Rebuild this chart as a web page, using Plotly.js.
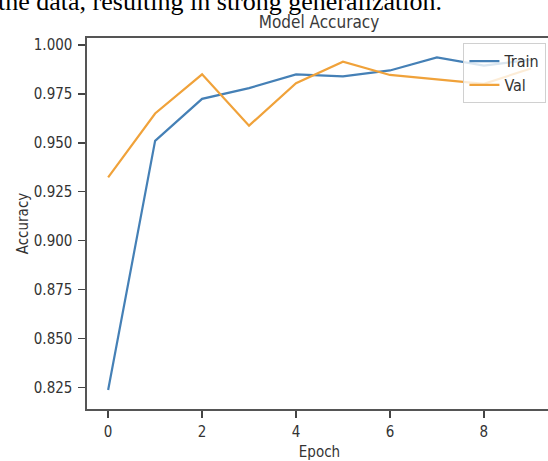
<!DOCTYPE html>
<html>
<head>
<meta charset="utf-8">
<script src="https://cdn.plot.ly/plotly-3.0.1.min.js"></script>
<style>
  html, body { margin: 0; padding: 0; width: 548px; height: 461px; overflow: hidden; background: #fff; }
  #wrap { position: relative; width: 548px; height: 461px; overflow: hidden; }
  #chart { position: absolute; left: 0; top: 0; width: 560px; height: 461px; }
  #doctext { position: absolute; left: -2px; top: -11px; font-family: "Liberation Serif", "Times New Roman", serif;
             font-size: 26px; line-height: 26px; color: #000; white-space: nowrap; z-index: 5; }
</style>
</head>
<body>
<div id="wrap">
  <div id="chart"></div>
  <div id="doctext">the data, resulting in strong generalization.</div>
</div>
<script>
const epochs = [0, 1, 2, 3, 4, 5, 6, 7, 8, 9];
const trainAcc = [0.8236, 0.951, 0.9725, 0.978, 0.985, 0.984, 0.987, 0.9937, 0.9895, 0.9925];
const valAcc = [0.9323, 0.965, 0.985, 0.9588, 0.9805, 0.9915, 0.9847, 0.9826, 0.9802, 0.988];
const seriesNames = ["Train", "Val"];
const xTicks = [0, 2, 4, 6, 8];
const yTicks = [0.825, 0.850, 0.875, 0.900, 0.925, 0.950, 0.975, 1.000];

const FONT = '"DejaVu Sans Condensed", "DejaVu Sans", sans-serif';

const traces = [
  { x: epochs, y: trainAcc, name: seriesNames[0], type: 'scatter', mode: 'lines',
    line: { color: '#4580b6', width: 2.2 } },
  { x: epochs, y: valAcc, name: seriesNames[1], type: 'scatter', mode: 'lines',
    line: { color: '#f0a23a', width: 2.2 } }
];

const layout = {
  width: 560, height: 461,
  margin: { l: 87, r: 8, t: 38, b: 52 },
  paper_bgcolor: '#ffffff', plot_bgcolor: '#ffffff',
  font: { family: FONT, color: '#333', size: 15 },
  title: { text: 'Model Accuracy', font: { family: FONT, size: 17, color: '#3a3a3a' },
           x: (319 / 560), xanchor: 'center', xref: 'container', y: 1 - 22 / 461, yref: 'container', yanchor: 'middle' },
  xaxis: {
    range: [-0.45, 9.45], tickvals: xTicks, ticktext: xTicks.map(String),
    ticks: 'outside', ticklen: 7, tickwidth: 1.4, tickcolor: '#444',
    showline: true, linecolor: '#555', linewidth: 1.6, mirror: true,
    showgrid: false, zeroline: false, ticklabelstandoff: 1,
    tickfont: { family: FONT, size: 15, color: '#333' },
    title: { text: 'Epoch', font: { family: FONT, size: 15, color: '#333' }, standoff: 10 },
    automargin: false
  },
  yaxis: {
    range: [0.8139, 1.0036], tickvals: yTicks, ticktext: yTicks.map(v => v.toFixed(3)),
    ticks: 'outside', ticklen: 7, tickwidth: 1.4, tickcolor: '#444',
    showline: true, linecolor: '#555', linewidth: 1.6, mirror: true,
    showgrid: false, zeroline: false, ticklabelstandoff: 3,
    tickfont: { family: FONT, size: 15, color: '#333' },
    title: { text: 'Accuracy', font: { family: FONT, size: 15, color: '#333' }, standoff: 1 },
    automargin: false
  },
  showlegend: true,
  legend: {
    x: 0.988, xanchor: 'right', y: 0.986, yanchor: 'top',
    bgcolor: 'rgba(255,255,255,0.8)', bordercolor: '#d0d0d0', borderwidth: 1,
    font: { family: FONT, size: 16, color: '#333' },
    itemwidth: 30, tracegroupgap: 0
  }
};

Plotly.newPlot('chart', traces, layout, { displayModeBar: false, staticPlot: true });
</script>
</body>
</html>
